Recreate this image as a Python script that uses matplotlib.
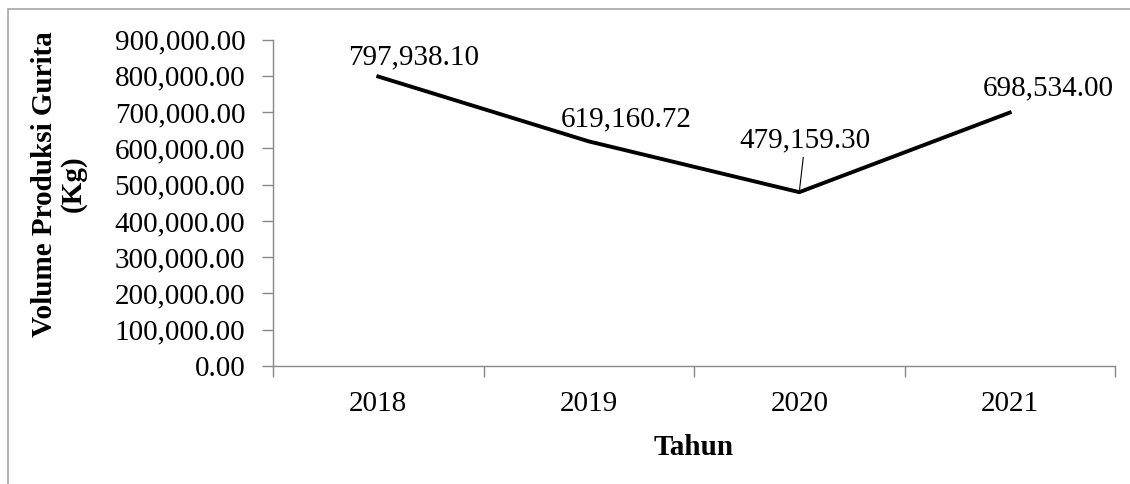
import matplotlib
matplotlib.use("Agg")
import matplotlib.pyplot as plt
from matplotlib.patches import Rectangle
import numpy as np

# data
tahun = ["2018", "2019", "2020", "2021"]
volume = [797938.10, 619160.72, 479159.30, 698534.00]
y_ticks = [0, 100000, 200000, 300000, 400000, 500000, 600000, 700000, 800000, 900000]
# label offsets (pixels) relative to each point
label_dx = [35, 37, 6, 39]
label_dy = [19, 22, 52, 24]
leader = [False, False, True, False]

plt.rcParams['font.family'] = ['Liberation Serif', 'DejaVu Serif']
FS = 21

W, H = 1130, 484
fig = plt.figure(figsize=(W / 100, H / 100), dpi=100)
ax = fig.add_axes([273 / W, (H - 366) / H, (1115 - 273) / W, (366 - 39.5) / H])

# chart area border (only top/left visible)
fig.patches.append(Rectangle((8 / W, -0.2), 1.5, 1.2 - 9 / H, transform=fig.transFigure,
                             fill=False, edgecolor='#a6a6a6', lw=1.2))

x = np.arange(len(tahun))
ax.plot(x, volume, color='black', lw=2.8, solid_joinstyle='miter')

for i, v in enumerate(volume):
    kw = {}
    if leader[i]:
        kw['arrowprops'] = dict(arrowstyle='-', color='black', lw=0.8, shrinkA=1, shrinkB=2)
    ax.annotate(f"{v:,.2f}", (x[i], v), xytext=(label_dx[i], label_dy[i]),
                textcoords='offset pixels', ha='center', va='center', fontsize=FS, **kw)

ax.set_xlim(-0.5, len(tahun) - 0.5)
ax.set_ylim(0, 900000)
ax.set_yticks(y_ticks)
ax.set_yticklabels([f"{t:,.2f}" for t in y_ticks], fontsize=FS)
ax.set_xticks(x)
ax.set_xticklabels(tahun, fontsize=FS)
ax.set_xticks(np.arange(len(tahun) + 1) - 0.5, minor=True)
ax.tick_params(axis='x', which='major', length=0, pad=18)
ax.tick_params(axis='x', which='minor', length=8, width=1, color='#888888', direction='out')
ax.tick_params(axis='y', length=8, width=1, color='#888888', direction='out', pad=12)

for s in ['top', 'right']:
    ax.spines[s].set_visible(False)
for s in ['left', 'bottom']:
    ax.spines[s].set_color('#888888')
    ax.spines[s].set_linewidth(1)

ax.set_xlabel("Tahun", fontsize=FS, fontweight='bold', labelpad=12)
fig.text(59 / W, 1 - 184 / H, "Volume Produksi Gurita\n(Kg)", rotation=90, ha='center', va='center',
         fontsize=FS, fontweight='bold', linespacing=1.05)

fig.savefig("out.png", dpi=100)
